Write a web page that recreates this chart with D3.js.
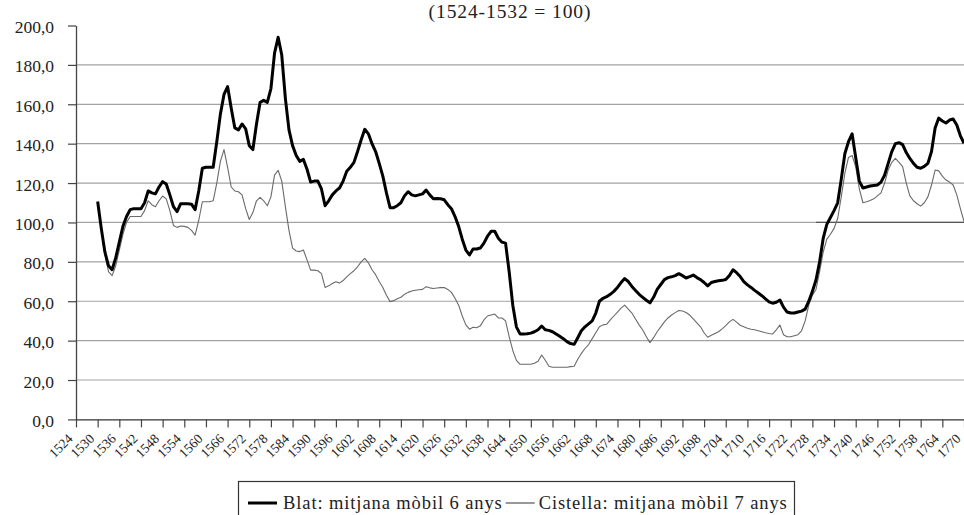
<!DOCTYPE html>
<html><head><meta charset="utf-8">
<script src="https://cdn.jsdelivr.net/npm/d3@7"></script>
<style>
body{margin:0;background:#fff}
svg{display:block}
text{font-family:"Liberation Serif","Times New Roman",serif;fill:#222}
</style>
</head><body>
<svg id="chart" width="964" height="515"></svg>
<script>
const title = "(1524-1532 = 100)";
const firstYear = 1530, lastYear = 1770;
const years = d3.range(firstYear, lastYear + 1);
const blat = [
110.6,97,85,78,76,82,90,98,103,106.5,107,107,107,110,116,115,114.5,118,120.7,119.5,
114,108,105.5,109.5,109.5,109.5,109.3,106.5,116,127.5,128,128,128,141,155,165,169,158,148,147,
150,147.5,139,137,150,161,162,161,168,186,194,185,163,147,139,134,131,132,127,120.5,
121,121,117,108.5,111,114,116,117.5,121,126,128,130.5,136,142,147.3,145,140,136,130,123.5,
115,107.5,107.5,108.5,110,113.5,115.6,114,113.5,114,114.5,116.4,114,112,112.2,112,111.5,109,107,103,
98,91.5,86,83.5,86.5,86.5,87,89.5,93,95.5,95.5,92,90,89.5,75,58,47,43.4,43.4,43.5,
43.8,44.5,45.5,47.4,45.5,45.2,44.5,43.4,42.2,41,39.5,38.5,38.1,41.5,45,47,48.5,50,54,60,
61.5,62.3,63.5,65,67,69.5,71.5,70,67.5,65.5,63.5,62,60.5,59.2,62,66,68.5,71,72,72.4,
73,74,73,71.8,72.5,73.3,72,71,69.5,67.8,69.5,70,70.4,70.6,71,73,76,74.5,72.5,70,
68.3,67,65.5,64.2,62.8,61.2,59.7,59,59.5,60.6,57,54.5,54,54,54.5,55,56,60,65,70.8,
80,92,99,102.5,106,110,122,135,141,145,133,121,117.5,118,118.5,118.8,119,120.5,124,130,
136,140,140.5,139.5,135.5,132.5,130,128,127.5,128.5,130,136,148,153,151.5,150.5,152,152.5,149.5,144,
140.2];
const cistella = [
109,97,84,75,73,78,86,94,100,103,103,103,103,106,111,109,108,111,113.4,112,
106,98.5,97.5,98.2,98,97.5,96,93.6,101,110.5,110.5,110.5,111,120,131,137,128,118,116,115.6,
114,107,101.5,105,111,112.7,111,108.5,113,124,126.5,121,108,96,87,85.5,85.2,86,81,75.8,
75.8,75.5,74,67,67.8,69,69.9,69.2,70.5,72.4,74,75.5,77.5,80,81.8,79.5,76,73.5,70,67,
63,59.8,60.3,61.2,62,63.5,64.5,65.2,65.6,65.8,66,67.4,66.8,66.5,66.7,66.9,67,66,64.5,61.5,
58,52.5,48,45.8,46.8,46.5,47.5,50.5,52.5,53,53.5,51.5,51.5,50,42,35,30,28,28,28,
28,28.5,29.5,32.7,30,27,26.5,26.5,26.5,26.5,26.5,26.8,27,30.5,33.5,36,38,41,44,47,
48,48.3,50.5,52.5,54.5,56.5,58,56,54,51,48,45.4,42,39,41.5,44.5,47,49.5,51.5,53,
54.2,55.3,55,54.3,53,51,49,47,44,41.7,42.7,43.6,44.5,46,47.6,49.5,50.8,49.4,47.8,47,
46.3,45.8,45.5,45,44.5,44,43.6,43.4,45.5,47.9,43,42,42,42.5,43,45,50,58,63,66,
75,85,91.5,94,97,102,113,125,133,134,128.3,117,110,110.5,111.2,112,113.5,115,120,126.6,
130.5,132.5,130.5,128.3,120,113.5,111,109.5,108.3,110,113,119,126.6,126.2,123.5,121.5,120.5,119,114,107,
100.4];
const yTicks = [0,20,40,60,80,100,120,140,160,180,200];
const gridValues = [20,40,60,80,100,120,140,160,180];
const xTickYears = d3.range(1524, 1771, 6);
const seriesNames = ["Blat: mitjana mòbil 6 anys", "Cistella: mitjana mòbil 7 anys"];
const baseValue = 100;
const baseYears = [1729, 1770];

const svg = d3.select("#chart");
const x = d3.scaleLinear().domain([1524, 1770]).range([76, 964]);
const y = d3.scaleLinear().domain([0, 200]).range([419.4, 25.5]);

// title
svg.append("text").attr("x", 510).attr("y", 18).attr("text-anchor", "middle")
  .style("font-size", "19.5px").style("letter-spacing", "0.9px").text(title);

// gridlines
svg.append("g").selectAll("line").data(gridValues).join("line")
  .attr("x1", x(1524)).attr("x2", x(1770))
  .attr("y1", d => y(d)).attr("y2", d => y(d))
  .attr("stroke", "#a3a3a3").attr("stroke-width", 1.2);

// base line (darker segment at 100)
svg.append("line")
  .attr("x1", x(baseYears[0])).attr("x2", x(baseYears[1]))
  .attr("y1", y(baseValue)).attr("y2", y(baseValue))
  .attr("stroke", "#555").attr("stroke-width", 1.2);

// y axis
const fmt = d => d3.format(".1f")(d).replace(".", ",");
const yAxis = svg.append("g").attr("transform", `translate(${x(1524)},0)`)
  .call(d3.axisLeft(y).tickValues(yTicks).tickSize(8).tickSizeOuter(0).tickPadding(14).tickFormat(fmt));
yAxis.attr("font-family", null);
yAxis.select(".domain").attr("stroke", "#444").attr("stroke-width", 1.3);
yAxis.selectAll(".tick line").attr("stroke", "#444").attr("stroke-width", 1.2);
yAxis.selectAll(".tick text").style("font-size", "17.5px").attr("fill", "#222").attr("dy", "0.4em");

// x axis
const xAxis = svg.append("g").attr("transform", `translate(0,${y(0)})`)
  .call(d3.axisBottom(x).tickValues(xTickYears).tickSize(8).tickSizeOuter(0).tickFormat(d3.format("d")));
xAxis.attr("font-family", null);
xAxis.select(".domain").attr("stroke", "#333").attr("stroke-width", 1.3);
xAxis.selectAll(".tick line").attr("stroke", "#444").attr("stroke-width", 1.2);
xAxis.selectAll(".tick text")
  .style("font-size", "13.5px").attr("fill", "#222")
  .attr("text-anchor", "end").attr("dy", null).attr("y", 0)
  .attr("transform", "translate(-3,20) rotate(-45)");

// lines
const line = d3.line().x((d, i) => x(years[i])).y(d => y(d));
svg.append("path").datum(cistella).attr("d", line)
  .attr("fill", "none").attr("stroke", "#6a6a6a").attr("stroke-width", 1.1).attr("stroke-linejoin", "round");
svg.append("path").datum(blat).attr("d", line)
  .attr("fill", "none").attr("stroke", "#000").attr("stroke-width", 3).attr("stroke-linejoin", "round");

// legend
const lg = svg.append("g");
lg.append("rect").attr("x", 238.5).attr("y", 481.5).attr("width", 556).attr("height", 50)
  .attr("fill", "#fff").attr("stroke", "#333").attr("stroke-width", 1.2);
lg.append("line").attr("x1", 248).attr("x2", 277).attr("y1", 503).attr("y2", 503)
  .attr("stroke", "#000").attr("stroke-width", 3);
const t1 = lg.append("text").attr("x", 283).attr("y", 508.5)
  .style("font-size", "18.5px").style("letter-spacing", "0.9px").text(seriesNames[0]);
const e1 = 283 + t1.node().getComputedTextLength();
lg.append("line").attr("x1", e1 + 3).attr("x2", e1 + 32).attr("y1", 503).attr("y2", 503)
  .attr("stroke", "#444").attr("stroke-width", 1.1);
lg.append("text").attr("x", e1 + 36).attr("y", 508.5)
  .style("font-size", "18.5px").style("letter-spacing", "0.9px").text(seriesNames[1]);
</script>
</body></html>
